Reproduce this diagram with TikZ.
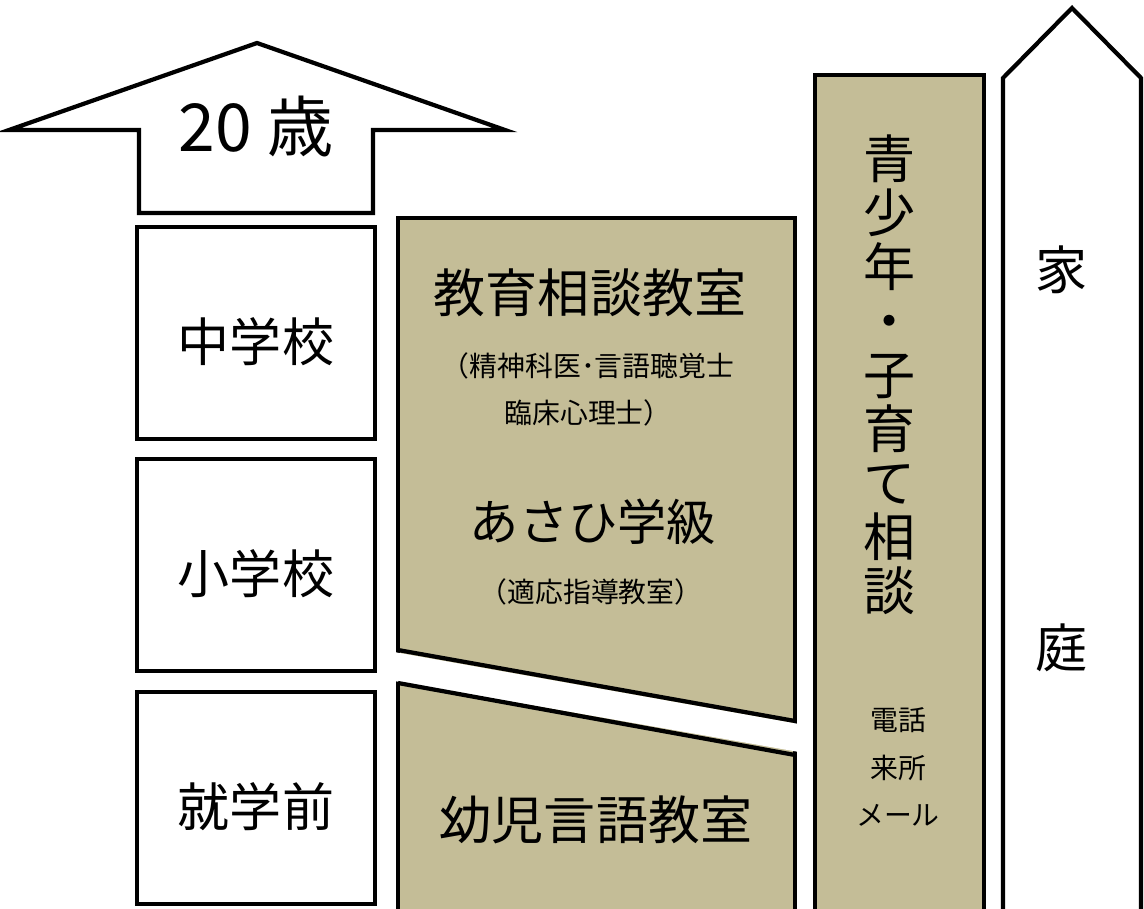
\documentclass[tikz,border=0pt]{standalone}
\usepackage{fontspec}
\setmainfont{Noto Sans CJK JP}
\definecolor{tan}{HTML}{C4BD97}
\newcommand{\hugejp}{\fontsize{47}{50}\selectfont}
\newcommand{\bigjp}{\fontsize{37}{38.4}\selectfont}
\newcommand{\smalljp}{\fontsize{19.8}{33.5}\selectfont}
\tikzstyle{stage}=[draw,line width=3pt,fill=white,minimum width=5.95cm,minimum height=5.3cm,inner sep=0pt,font=\bigjp,text height=41pt,text depth=0pt]
\tikzstyle{panel}=[draw,line width=3.5pt,fill=tan]
\tikzstyle{label}=[inner sep=0pt,align=center]

\begin{document}
\begin{tikzpicture}[x=0.025cm,y=-0.025cm]
    \useasboundingbox (0,0) rectangle (1144,908);
    % age arrow
    \draw[line width=3pt,fill=white] (139,213) -- (139,130) -- (9,130) -- (257,43)
        -- (505,130) -- (373,130) -- (373,213) -- cycle;
    \node[label,font=\hugejp] (age) at (256,126) {20 歳};
    % school stages
    \node[stage] (jhs) at (256,333) {中学校};
    \node[stage] (es) at (256,565) {小学校};
    \node[stage] (pre) at (256,798) {就学前};
    % consultation room panel
    \draw[panel] (398,912) -- (398,218) -- (795,218) -- (795,912);
    \fill[white] (394,652) -- (799,724) -- (799,752) -- (394,681) -- cycle;
    \draw[line width=3pt] (398,650) -- (795,721);
    \draw[line width=3pt] (398,683) -- (795,755);
    \node[label,font=\bigjp] (edu) at (590,293) {教育相談教室};
    \node[label,font=\smalljp] (staff) at (588,389) {（精神科医･言語聴覚士\\臨床心理士）};
    \node[label,font=\fontsize{35}{38}\selectfont] (asahi) at (593,522) {あさひ学級};
    \node[label,font=\smalljp] (tekio) at (591,592) {（適応指導教室）};
    \node[label,font=\bigjp] (yoji) at (596,820) {幼児言語教室};
    % youth and child care consultation
    \draw[panel] (815,912) -- (815,75) -- (984,75) -- (984,912);
    \node[label,font=\bigjp] (youth) at (890,375) {青\\少\\年\\・\\子\\育\\て\\相\\談};
    \node[label,font=\smalljp] (ways) at (898,767) {電話\\来所\\メール};
    % family
    \draw[line width=3pt,fill=white] (1003,912) -- (1003,78) -- (1072,8) -- (1141,78) -- (1141,912);
    \node[label,font=\bigjp] (ie) at (1062,270) {家};
    \node[label,font=\bigjp] (tei) at (1062,648) {庭};
\end{tikzpicture}
\end{document}
